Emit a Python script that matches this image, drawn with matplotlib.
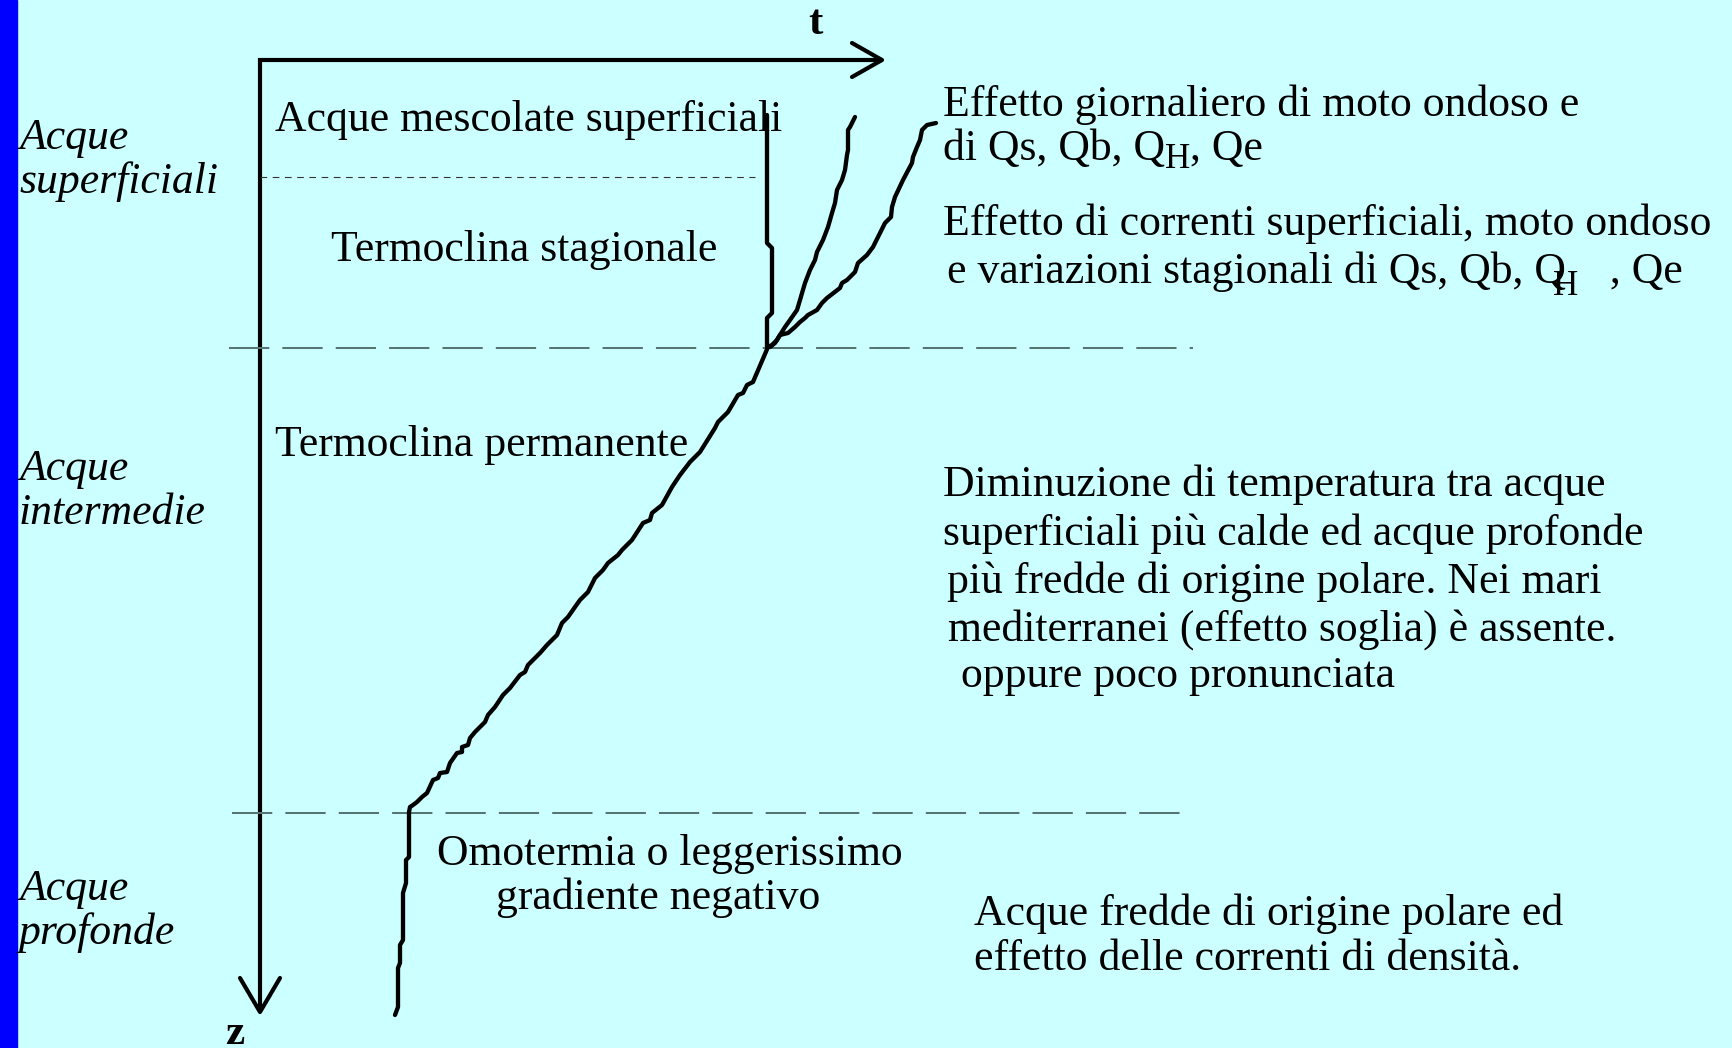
import matplotlib
matplotlib.use("Agg")
import matplotlib.pyplot as plt

plt.rcParams["font.family"] = ["Liberation Serif", "DejaVu Serif"]

# Schematic temperature profiles: t (temperature, arbitrary units) vs z (depth, down)
# daily mixed-layer profile (step line)
daily_t = [507, 507, 512, 512, 507, 507]
daily_z = [55, 183, 188, 253, 258, 287]

# intermediate seasonal profile
mid_t = [595, 590, 588, 588, 587, 585, 582, 577, 575, 572, 568, 563, 557, 555, 550,
         545, 540, 537, 530, 525, 520, 515, 510]
mid_z = [57, 67, 70, 90, 95, 110, 120, 130, 143, 153, 167, 180, 192, 200, 210,
         223, 240, 250, 260, 267, 275, 283, 287]

# warm seasonal profile
season_t = [676, 667, 662, 660, 657, 653, 652, 643, 635, 632, 631, 625, 620, 613, 607,
            598, 595, 587, 582, 580, 567, 562, 557, 548, 545, 540, 535, 528, 520, 517,
            512, 508]
season_z = [63, 65, 70, 80, 87, 97, 103, 120, 137, 147, 157, 163, 173, 187, 195,
            203, 212, 220, 223, 228, 238, 243, 250, 255, 258, 262, 267, 273, 275, 280,
            285, 287]

# permanent thermocline + deep homothermal layer
deep_t = [508, 493, 487, 483, 478, 468, 458, 455, 440, 430, 420, 412, 402, 392, 390,
          383, 372, 362, 358, 348, 343, 335, 328, 320, 315, 308, 302, 297, 287, 280,
          268, 265, 260, 250, 243, 235, 228, 225, 215, 210, 208, 202, 202, 197, 190,
          187, 180, 178, 173, 167, 162, 157, 153, 150, 149, 149, 146, 146, 143, 143,
          140, 140, 138, 138, 135]
deep_z = [287, 322, 325, 333, 335, 352, 362, 368, 392, 402, 415, 427, 445, 453, 460,
          463, 480, 490, 495, 503, 510, 518, 532, 540, 547, 557, 563, 575, 585, 593,
          605, 612, 615, 628, 635, 647, 655, 662, 672, 678, 685, 687, 692, 693, 703,
          712, 713, 718, 720, 733, 737, 742, 745, 747, 752, 797, 800, 823, 833, 880,
          885, 903, 908, 947, 955]

# layer boundaries (depth) and mixed-layer base
mixed_base_z = 117
seasonal_base_z = 288
permanent_base_z = 753

side_labels = [("Acque", "superficiali"), ("Acque", "intermedie"), ("Acque", "profonde")]
side_label_z = [89, 420, 840]

right_notes = [
    "Effetto giornaliero di moto ondoso e",
    "Effetto di correnti superficiali, moto ondoso",
    "Diminuzione di temperatura tra acque",
    "superficiali più calde ed acque profonde",
    "più fredde di origine polare. Nei mari",
    "mediterranei (effetto soglia) è assente.",
    " oppure poco pronunciata",
    "Acque fredde di origine polare ed",
    "effetto delle correnti di densità.",
]
right_notes_t = [683, 683, 683, 683, 687, 688, 690, 714, 714]
right_notes_z = [56, 175, 436, 485, 533, 581, 627, 865, 910]

BG = "#CCFFFF"
FS = 31.5

fig = plt.figure(figsize=(17.33, 10.48), dpi=100, facecolor=BG)
ax = fig.add_axes([0, 0, 1, 1])
ax.set_facecolor(BG)
ax.set_xlim(-260, 1473)
ax.set_ylim(988, -60)
ax.axis("off")

# blue strip at the left edge
ax.axvspan(-260, -243, color="#0000FF", zorder=0)

# axes with arrows
lw_ax = 3.0
ax.plot([622, 0, 0], [0, 0, 952], color="black", lw=lw_ax, solid_joinstyle="miter",
        solid_capstyle="butt")
ax.plot([592, 622, 592], [-17, 0, 17], color="black", lw=lw_ax, solid_capstyle="round")
ax.plot([-20, 0, 20], [918, 952, 918], color="black", lw=lw_ax, solid_capstyle="round")
ax.text(555, -36, "t", fontsize=31, fontweight="bold", ha="center", va="center")
ax.text(-25, 974, "z", fontsize=31, fontweight="bold", ha="center", va="center")

# layer boundaries
ax.plot([0, 495], [mixed_base_z, mixed_base_z], color="#333333", lw=0.8,
        linestyle=(0, (6, 5)))
dash = (0, (20, 6.5))
ax.plot([-31, 933], [seasonal_base_z, seasonal_base_z], color="#557575", lw=1.45,
        linestyle=dash)
ax.plot([-28, 925], [permanent_base_z, permanent_base_z], color="#557575", lw=1.45,
        linestyle=dash)

# profiles
kw = dict(color="black", lw=3.1, solid_joinstyle="round", solid_capstyle="round")
ax.plot(daily_t, daily_z, **kw)
ax.plot(mid_t, mid_z, **kw)
ax.plot(season_t, season_z, **kw)
ax.plot(deep_t, deep_z, **kw)

# region names
ax.text(15, 71, "Acque mescolate superficiali", fontsize=FS, va="baseline")
ax.text(71, 201, "Termoclina stagionale", fontsize=FS, va="baseline")
ax.text(15, 396, "Termoclina permanente", fontsize=FS, va="baseline")
ax.text(177, 805, "Omotermia o leggerissimo", fontsize=FS, va="baseline")
ax.text(236, 849, "gradiente negativo", fontsize=FS, va="baseline")

# left labels
for (l1, l2), z in zip(side_labels, side_label_z):
    ax.text(-241, z, l1, fontsize=FS, style="italic", va="baseline")
    ax.text(-241, z + 44, l2, fontsize=FS, style="italic", va="baseline")

# right notes
for s, t, z in zip(right_notes, right_notes_t, right_notes_z):
    ax.text(t, z, s, fontsize=FS, va="baseline")
ax.text(683, 100, "di Qs, Qb, Q", fontsize=FS, va="baseline")
ax.text(905, 108, "H", fontsize=FS * 0.8, va="baseline")
ax.text(930, 100, ", Qe", fontsize=FS, va="baseline")
ax.text(687, 223, "e variazioni stagionali di Qs, Qb, Q    , Qe", fontsize=FS, va="baseline")
ax.text(1293, 235, "H", fontsize=FS * 0.8, va="baseline")

fig.savefig("out.png", dpi=100, facecolor=BG)
